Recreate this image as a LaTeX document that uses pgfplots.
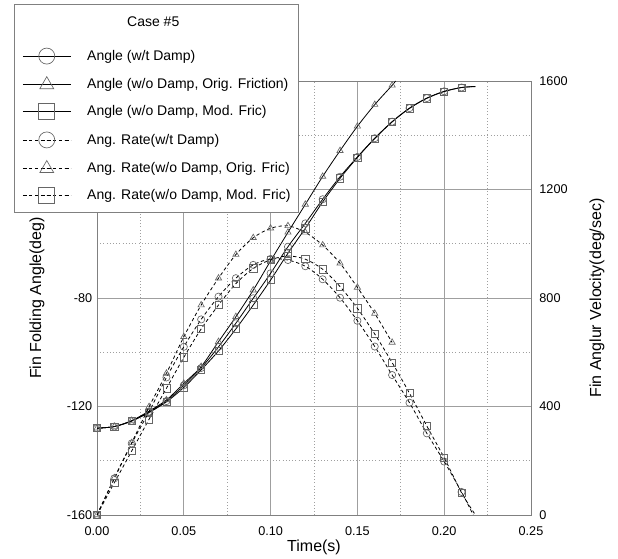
\documentclass[border=0pt]{standalone}
\usepackage{pgfplots}
\pgfplotsset{compat=1.18}
\usepackage{fontspec}
\setmainfont{Liberation Sans}

\pgfplotsset{
  base/.style={
    scale only axis, width=325.5pt, height=325.5pt,
    xmin=0, xmax=0.25,
    /pgf/number format/assume math mode=true,
    /pgf/number format/1000 sep={},
    tick label style={font=\fontsize{9.5}{11}\selectfont},
    label style={font=\fontsize{12}{14}\selectfont},
    major tick length=0pt, minor tick length=0pt,
    axis line style={gray},
  },
  ln/.style={black, line width=0.6pt, smooth},
  dsh/.style={black, line width=0.6pt, smooth, dash pattern=on 2.5pt off 2pt},
  mk/.style={mark options={solid, draw=black!60, line width=0.5pt}, mark size=2.7pt},
}

\begin{document}
\begin{tikzpicture}
\begin{axis}[base,
  ymin=-160, ymax=0,
  xtick={0,0.05,0.1,0.15,0.2,0.25},
  minor xtick={0.025,0.075,0.125,0.175,0.225},
  ytick={-160,-120,-80,-40,0},
  minor ytick={-140,-100,-60,-20},
  grid=both,
  major grid style={gray!75, solid, line width=0.5pt},
  minor grid style={gray!75, dotted, line width=0.5pt},
  xticklabel style={yshift=-5pt, /pgf/number format/.cd, fixed, fixed zerofill, precision=2},
  xlabel={Time(s)},
  xlabel style={at={(axis description cs:0.5,-0.0737)}, anchor=center},
  ylabel={Fin Folding Angle(deg)},
  ylabel style={at={(axis description cs:-0.138,0.5)}, anchor=center},
]
% Angle (w/t Damp)
\addplot[ln, mk, mark=o, mark indices={1,...,22}] coordinates {
(0,-128) (0.01,-127.4) (0.02,-125.3) (0.03,-122) (0.04,-118) (0.05,-112.2)
(0.06,-105.8) (0.07,-98) (0.08,-89.3) (0.09,-80.1) (0.10,-70.9) (0.11,-61.1)
(0.12,-52.5) (0.13,-43.6) (0.14,-35.3) (0.15,-28) (0.16,-21.1) (0.17,-15)
(0.18,-10) (0.19,-6.3) (0.20,-3.8) (0.21,-2.4) (0.218,-2.0)};
% Angle (w/o Damp, Orig. Friction)
\addplot[ln, mk, mark=triangle, mark indices={1,...,18}] coordinates {
(0,-128) (0.01,-127.4) (0.02,-125.2) (0.03,-121.7) (0.04,-117.6) (0.05,-111.5)
(0.06,-105.3) (0.07,-96.1) (0.08,-86.9) (0.09,-77.1) (0.10,-66.3) (0.11,-55.8)
(0.12,-45.5) (0.13,-35.2) (0.14,-25.7) (0.15,-16.7) (0.16,-8.7) (0.17,-1.6) (0.172,0)};
% Angle (w/o Damp, Mod. Fric)
\addplot[ln, mk, mark=square, mark indices={1,...,22}] coordinates {
(0,-128) (0.01,-127.4) (0.02,-125.4) (0.03,-122.2) (0.04,-118.3) (0.05,-113)
(0.06,-106.5) (0.07,-99.5) (0.08,-91.4) (0.09,-82.6) (0.10,-73.4) (0.11,-63.5)
(0.12,-54.3) (0.13,-44.6) (0.14,-35.9) (0.15,-28.2) (0.16,-21.2) (0.17,-15.1)
(0.18,-10.1) (0.19,-6.4) (0.20,-3.9) (0.21,-2.4) (0.218,-2.1)};
\end{axis}

\begin{axis}[base,
  ymin=0, ymax=1600,
  axis y line*=right, axis x line=none,
  ytick={0,400,800,1200,1600},
  yticklabel style={xshift=2.8pt},
  ylabel={Fin Anglur Velocity(deg/sec)},
  ylabel style={at={(axis description cs:1.152,0.5)}, anchor=center},
  legend cell align=left,
  legend image code/.code={\draw[#1, mark indices={2}, mark size=6pt] plot coordinates {(0pt,0pt) (18pt,0pt) (36pt,0pt)};},
  legend style={at={(axis description cs:-0.191,1.1774)}, anchor=north west,
    draw=gray, fill=white, font=\fontsize{10.5}{12}\selectfont,
    nodes={inner sep=0pt}, inner xsep=6pt, inner ysep=7pt,
    row sep=9.45pt, column sep=12pt},
]
\addlegendimage{empty legend}
\addlegendentry[text height=9.5pt, text depth=6.9pt]{\hspace{30pt}Case \#5}
\addlegendimage{ln, mk, mark=o}
\addlegendentry{Angle (w/t Damp)}
\addlegendimage{ln, mk, mark=triangle}
\addlegendentry{Angle (w/o Damp, Orig. Friction)}
\addlegendimage{ln, mk, mark=square}
\addlegendentry{Angle (w/o Damp, Mod. Fric)}
% Ang. Rate (w/t Damp)
\addplot[dsh, mk, mark=o, mark indices={1,...,22}] coordinates {
(0,0) (0.01,135) (0.02,264) (0.03,381) (0.04,507) (0.05,620) (0.06,721)
(0.07,805) (0.08,873) (0.09,922) (0.10,944) (0.11,940) (0.12,917) (0.13,869)
(0.14,801) (0.15,716) (0.16,621) (0.17,516) (0.18,414) (0.19,301) (0.20,197)
(0.21,85) (0.2167,0)};
\addlegendentry{Ang. Rate(w/t Damp)}
% Ang. Rate (w/o Damp, Orig. Fric)
\addplot[dsh, mk, mark=triangle] coordinates {
(0,0) (0.01,137) (0.02,266) (0.03,399) (0.04,522) (0.05,657) (0.06,774)
(0.07,873) (0.08,960) (0.09,1022) (0.10,1057) (0.11,1066) (0.12,1042) (0.13,995)
(0.14,928) (0.15,839) (0.16,743) (0.17,636)};
\addlegendentry{Ang. Rate(w/o Damp, Orig. Fric)}
% Ang. Rate (w/o Damp, Mod. Fric)
\addplot[dsh, mk, mark=square, mark indices={1,...,22}] coordinates {
(0,0) (0.01,119) (0.02,236) (0.03,353) (0.04,467) (0.05,581) (0.06,686)
(0.07,774) (0.08,853) (0.09,909) (0.10,941) (0.11,955) (0.12,943) (0.13,906)
(0.14,842) (0.15,762) (0.16,667) (0.17,562) (0.18,449) (0.19,328) (0.20,211)
(0.21,82) (0.218,0)};
\addlegendentry{Ang. Rate(w/o Damp, Mod. Fric)}
\end{axis}
\path (-72.75pt,-33pt) rectangle (390.75pt,386.25pt);
\end{tikzpicture}
\end{document}
